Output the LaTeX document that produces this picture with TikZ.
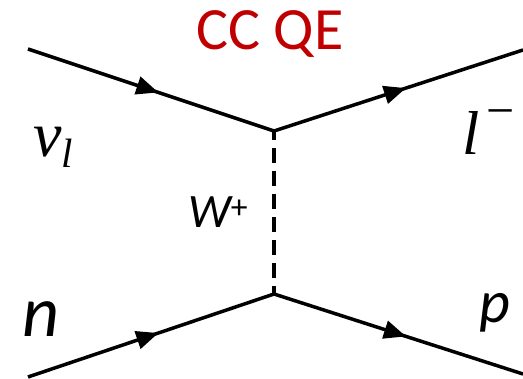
\documentclass[tikz,border=0pt]{standalone}
\usepackage{fontspec}
\setmainfont{Carlito}
\newfontfamily\symserif{Liberation Serif}
\usetikzlibrary{arrows.meta,decorations.markings}
\definecolor{ccred}{HTML}{C00000}
\tikzset{
  fermion/.style={line width=3.5pt,
    decoration={markings,mark=at position 0.53 with {\arrow{Triangle[length=22pt,width=18pt]}}},
    postaction={decorate}},
  boson/.style={line width=3.2pt,dash pattern=on 15pt off 8pt,dash phase=6pt},
  lbl/.style={inner sep=0pt,anchor=base west},
}
\begin{document}
\begin{tikzpicture}[x=1pt,y=-1pt]
\useasboundingbox (0,0) rectangle (523,379);
\coordinate (a) at (28,49);
\coordinate (v1) at (274,131);
\coordinate (b) at (523,50);
\coordinate (c) at (28,377);
\coordinate (v2) at (274,294);
\coordinate (d) at (523,374);
\draw[fermion] (a) -- (v1);
\draw[fermion] (v1) -- (b);
\draw[fermion] (c) -- (v2);
\draw[fermion] (v2) -- (d);
\draw[boson] (v1) -- (v2);
\node[inner sep=0pt,anchor=base,text=ccred,font=\fontsize{60}{60}\selectfont] (title) at (270,50) {CC QE};
\node[lbl,font=\symserif\itshape] (nu) at (33,157)
  {\fontsize{64}{64}\selectfont ν\raisebox{-11pt}{\fontsize{41}{41}\selectfont l}};
\node[lbl,font=\symserif\itshape] (lep) at (462,155)
  {\fontsize{62}{62}\selectfont l\kern7pt\raisebox{27pt}{\fontsize{50}{50}\selectfont\upshape −}};
\node[lbl,font=\fontsize{72}{72}\selectfont\itshape] (n) at (22,337) {n};
\node[lbl,font=\fontsize{60}{60}\selectfont\itshape] (p) at (479,323) {p};
\node[lbl,font=\fontsize{48}{48}\selectfont\itshape] (W) at (188,228) {W\textsuperscript{\upshape +}};
\end{tikzpicture}
\end{document}
